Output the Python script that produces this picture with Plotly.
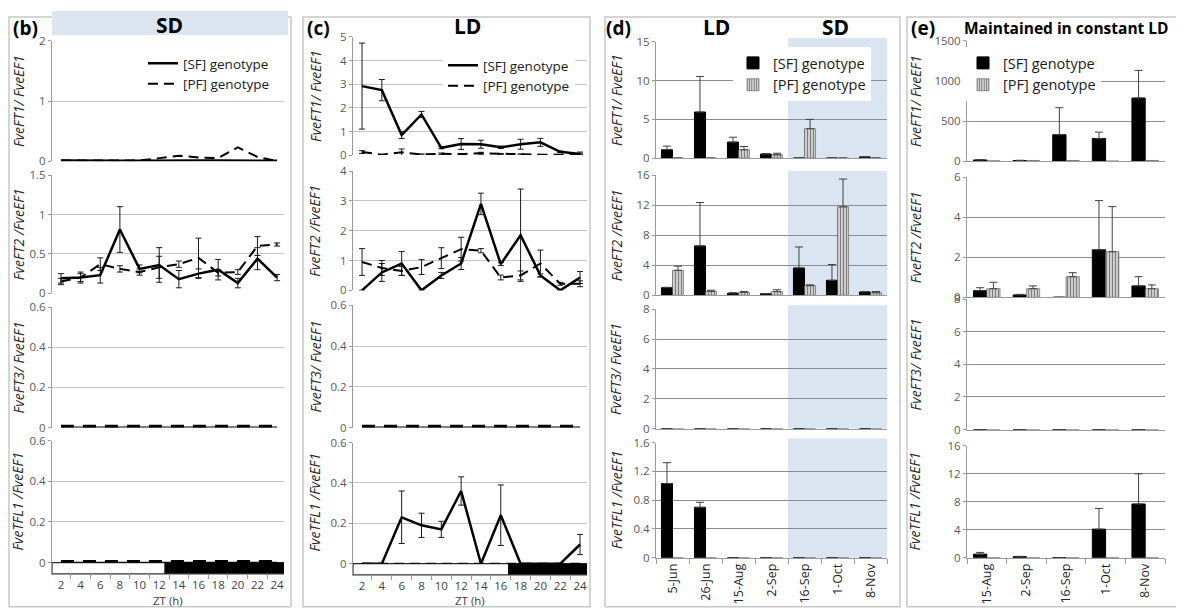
import plotly.graph_objects as go

# Page mapping: figure starts 8px from the left and ~16px from the top of the page;
# the captured page is slightly taller than the window, so y is compensated.
OX = 8
FW = 1176
FH = 609
SY = 1 / 0.974
OY = 16.5
FONT = "Open Sans"

# ---------------- data ----------------
ZT = [2, 4, 6, 8, 10, 12, 14, 16, 18, 20, 22, 24]
ZT_TICKS = [2, 4, 6, 8, 10, 12, 14, 16, 18, 20, 22, 24]

# (b) SD
b_ft1_sf = [0.01, 0.005, 0.01, 0.005, 0.005, 0.01, 0.01, 0.01, 0.01, 0.01, 0.01, 0.005]
b_ft1_pf = [0.01, 0.01, 0.01, 0.01, 0.01, 0.05, 0.09, 0.06, 0.05, 0.23, 0.07, 0.0]
b_ft2_sf = [0.19, 0.20, 0.23, 0.81, 0.31, 0.36, 0.18, 0.25, 0.30, 0.13, 0.44, 0.20]
b_ft2_sf_err = [0.06, 0.07, 0.10, 0.29, 0.05, 0.22, 0.11, 0.06, 0.13, 0.06, 0.14, 0.04]
b_ft2_pf = [0.15, 0.20, 0.37, 0.31, 0.27, 0.33, 0.37, 0.45, 0.26, 0.27, 0.60, 0.62]
b_ft2_pf_err = [0.04, 0.05, 0.08, 0.04, 0.04, 0.14, 0.04, 0.25, 0.04, 0.03, 0.12, 0.02]
b_ft3_sf = [0, 0, 0, 0, 0, 0, 0, 0, 0, 0, 0, 0]
b_ft3_pf = [0.004, 0.004, 0.004, 0.004, 0.004, 0.004, 0.004, 0.004, 0.004, 0.004, 0.004, 0.004]
b_tfl1_sf = [0, 0, 0, 0, 0, 0, 0, 0, 0, 0, 0, 0]
b_tfl1_pf = [0.004, 0.004, 0.004, 0.004, 0.004, 0.004, 0.004, 0.004, 0.004, 0.004, 0.004, 0.004]

# (c) LD
c_ft1_sf = [2.92, 2.75, 0.85, 1.72, 0.31, 0.47, 0.46, 0.33, 0.46, 0.54, 0.14, 0.05]
c_ft1_sf_err = [1.82, 0.45, 0.15, 0.13, 0.04, 0.23, 0.17, 0.05, 0.21, 0.17, 0.03, 0.08]
c_ft1_pf = [0.13, 0.02, 0.12, 0.03, 0.06, 0.04, 0.08, 0.05, 0.03, 0.02, 0.02, 0.05]
c_ft1_pf_err = [0.06, 0.01, 0.14, 0.02, 0.03, 0.02, 0.04, 0.02, 0.02, 0.01, 0.01, 0.03]
c_ft2_sf = [0.0, 0.6, 0.9, 0.0, 0.5, 0.9, 2.9, 0.88, 1.85, 0.5, 0.0, 0.43]
c_ft2_sf_err = [0.0, 0.3, 0.4, 0.0, 0.1, 0.2, 0.36, 0.05, 1.55, 0.05, 0.0, 0.2]
c_ft2_pf = [0.95, 0.75, 0.65, 0.78, 1.08, 1.38, 1.33, 0.43, 0.5, 0.9, 0.22, 0.22]
c_ft2_pf_err = [0.45, 0.25, 0.15, 0.25, 0.35, 0.4, 0.07, 0.08, 0.15, 0.45, 0.05, 0.1]
c_ft3_sf = [0, 0, 0, 0, 0, 0, 0, 0, 0, 0, 0, 0]
c_ft3_pf = [0.004, 0.004, 0.004, 0.004, 0.004, 0.004, 0.004, 0.004, 0.004, 0.004, 0.004, 0.004]
c_tfl1_sf = [0, 0, 0.23, 0.19, 0.17, 0.36, 0, 0.24, 0, 0, 0, 0.095]
c_tfl1_sf_err = [0, 0, 0.13, 0.06, 0.04, 0.07, 0, 0.15, 0, 0, 0, 0.05]
c_tfl1_pf = [0, 0, 0, 0, 0, 0, 0, 0, 0, 0, 0, 0]

# photoperiod (end of light phase, h)
LIGHT_END_SD = 12.6
LIGHT_END_LD = 16.8

# (d) field samples
d_dates = ["5-Jun", "26-Jun", "15-Aug", "2-Sep", "16-Sep", "1-Oct", "8-Nov"]
d_ft1_sf = [1.08, 5.95, 2.07, 0.52, 0, 0, 0.15]
d_ft1_sf_err = [0.47, 4.6, 0.63, 0.08, 0, 0, 0.03]
d_ft1_pf = [0, 0, 1.08, 0.43, 3.8, 0, 0]
d_ft1_pf_err = [0, 0, 0.42, 0.2, 1.2, 0, 0]
d_ft2_sf = [1.02, 6.58, 0.27, 0.2, 3.64, 2.0, 0.45]
d_ft2_sf_err = [0.05, 5.78, 0.1, 0.05, 2.8, 2.1, 0.05]
d_ft2_pf = [3.33, 0.53, 0.4, 0.5, 1.29, 11.78, 0.35]
d_ft2_pf_err = [0.55, 0.15, 0.1, 0.25, 0.1, 3.7, 0.15]
d_ft3_sf = [0, 0, 0, 0, 0, 0, 0]
d_ft3_pf = [0, 0, 0, 0, 0, 0, 0]
d_tfl1_sf = [1.03, 0.70, 0, 0, 0, 0, 0]
d_tfl1_sf_err = [0.29, 0.07, 0, 0, 0, 0, 0]
d_tfl1_pf = [0, 0, 0, 0, 0, 0, 0]
d_sd_start, d_sd_end = 3.5, 6.5   # SD shading between category boundaries

# (e) constant LD
e_dates = ["15-Aug", "2-Sep", "16-Sep", "1-Oct", "8-Nov"]
e_ft1_sf = [15, 8, 329, 283, 788]
e_ft1_sf_err = [5, 3, 338, 79, 345]
e_ft1_pf = [4, 8, 8, 0, 8]
e_ft2_sf = [0.33, 0.12, 0, 2.37, 0.57]
e_ft2_sf_err = [0.15, 0.03, 0, 2.46, 0.46]
e_ft2_pf = [0.43, 0.43, 1.03, 2.28, 0.43]
e_ft2_pf_err = [0.32, 0.14, 0.2, 2.25, 0.19]
e_ft3_sf = [0, 0, 0, 0, 0]
e_ft3_pf = [0, 0, 0, 0, 0]
e_tfl1_sf = [0.5, 0.15, 0, 4.07, 7.66]
e_tfl1_sf_err = [0.25, 0.05, 0, 2.96, 4.3]
e_tfl1_pf = [0, 0, 0, 0, 0]

Y_TITLES = ["FveFT1/ FveEF1", "FveFT2 /FveEF1", "FveFT3/ FveEF1", "FveTFL1 /FveEF1"]

# ---------------- layout geometry (target window pixels) ----------------
X_DOM = [(52, 284), (353, 587), (656, 887), (967, 1165)]
Y_DOM = [
    [(41, 161), (175, 293), (307, 427), (440, 573)],
    [(37, 155), (171, 290), (305, 427), (442, 574)],
    [(42, 158), (175, 295), (309, 428), (442, 557)],
    [(41, 161), (177, 297), (299, 429), (445, 557)],
]
Y_RANGE = [
    [(0, 2, 1), (0, 1.5, 0.5), (0, 0.6, 0.2), (-0.054, 0.6, 0.2)],
    [(0, 5, 1), (0, 4, 1), (0, 0.6, 0.2), (-0.0545, 0.6, 0.2)],
    [(0, 15, 5), (0, 16, 4), (0, 8, 2), (0, 1.6, 0.4)],
    [(0, 1500, 500), (0, 6, 2), (0, 8, 2), (0, 16, 4)],
]
ZT_RANGE = [1.09, 24.7]


def pxx(a):
    return (a - OX) / FW


def pxy(a):
    return 1 - (a * SY - OY) / FH


def idx(p, r):
    return p * 4 + r + 1


def axname(kind, i):
    return kind if i == 1 else f"{kind}{i}"


def tref(kind, i):
    k = kind[0]
    return k if i == 1 else f"{k}{i}"


fig = go.Figure()
LEGENDS = ["legend", "legend2", "legend3", "legend4"]
ERRC = "#1a1a1a"


def err(arr):
    if arr is None:
        return None
    return dict(type="data", array=arr, arrayminus=arr, symmetric=False,
                color=ERRC, thickness=1, width=3)


def line_pair(p, r, sf, sf_err, pf, pf_err, thick=False):
    i = idx(p, r)
    show = (r == 0)
    fig.add_trace(go.Scatter(
        x=ZT, y=sf, mode="lines", name="[SF] genotype",
        line=dict(color="black", width=2.5 if not thick else 2),
        error_y=err(sf_err), xaxis=tref("x", i), yaxis=tref("y", i),
        showlegend=show, legend=LEGENDS[p], hoverinfo="skip"))
    fig.add_trace(go.Scatter(
        x=ZT, y=pf, mode="lines", name="[PF] genotype",
        line=dict(color="black", width=4 if thick else 2,
                  dash="13px,9px" if thick else "10px,6px"),
        error_y=err(pf_err), xaxis=tref("x", i), yaxis=tref("y", i),
        showlegend=show, legend=LEGENDS[p], hoverinfo="skip"))


PF_PATTERN = dict(shape="|", fgcolor="black", bgcolor="white", size=3, solidity=0.6)


def bar_pair(p, r, cats, sf, sf_err, pf, pf_err):
    i = idx(p, r)
    show = (r == 0)
    sfe = None if sf_err is None else dict(type="data", array=sf_err, arrayminus=[0] * len(sf_err),
                                           symmetric=False, color="#404040", thickness=1, width=4)
    pfe = None if pf_err is None else dict(type="data", array=pf_err, arrayminus=[0] * len(pf_err),
                                           symmetric=False, color="#404040", thickness=1, width=4)
    fig.add_trace(go.Bar(
        x=cats, y=sf, name="[SF] genotype",
        marker=dict(color="black", line=dict(color="black", width=1)),
        error_y=sfe, xaxis=tref("x", i), yaxis=tref("y", i),
        showlegend=show, legend=LEGENDS[p], hoverinfo="skip",
        offsetgroup="sf"))
    fig.add_trace(go.Bar(
        x=cats, y=pf, name="[PF] genotype",
        marker=dict(color="white", pattern=PF_PATTERN, line=dict(color="#555555", width=0.6)),
        error_y=pfe, xaxis=tref("x", i), yaxis=tref("y", i),
        showlegend=show, legend=LEGENDS[p], hoverinfo="skip",
        offsetgroup="pf"))


# panel (b)
line_pair(0, 0, b_ft1_sf, None, b_ft1_pf, None)
line_pair(0, 1, b_ft2_sf, b_ft2_sf_err, b_ft2_pf, b_ft2_pf_err)
line_pair(0, 2, b_ft3_sf, None, b_ft3_pf, None, thick=True)
line_pair(0, 3, b_tfl1_sf, None, b_tfl1_pf, None, thick=True)
# panel (c)
line_pair(1, 0, c_ft1_sf, c_ft1_sf_err, c_ft1_pf, c_ft1_pf_err)
line_pair(1, 1, c_ft2_sf, c_ft2_sf_err, c_ft2_pf, c_ft2_pf_err)
line_pair(1, 2, c_ft3_sf, None, c_ft3_pf, None, thick=True)
line_pair(1, 3, c_tfl1_sf, c_tfl1_sf_err, c_tfl1_pf, None)
# panel (d)
bar_pair(2, 0, d_dates, d_ft1_sf, d_ft1_sf_err, d_ft1_pf, d_ft1_pf_err)
bar_pair(2, 1, d_dates, d_ft2_sf, d_ft2_sf_err, d_ft2_pf, d_ft2_pf_err)
bar_pair(2, 2, d_dates, d_ft3_sf, None, d_ft3_pf, None)
bar_pair(2, 3, d_dates, d_tfl1_sf, d_tfl1_sf_err, d_tfl1_pf, None)
# panel (e)
bar_pair(3, 0, e_dates, e_ft1_sf, e_ft1_sf_err, e_ft1_pf, None)
bar_pair(3, 1, e_dates, e_ft2_sf, e_ft2_sf_err, e_ft2_pf, e_ft2_pf_err)
bar_pair(3, 2, e_dates, e_ft3_sf, None, e_ft3_pf, None)
bar_pair(3, 3, e_dates, e_tfl1_sf, e_tfl1_sf_err, e_tfl1_pf, None)

# ---------------- axes ----------------
TICKFONT = dict(family=FONT, size=11.5, color="#595959")
layout = {}
for p in range(4):
    grid_c = "#c4c4c4" if p < 2 else "#8c8c8c"
    for r in range(4):
        i = idx(p, r)
        x0, x1 = X_DOM[p]
        yt, yb = Y_DOM[p][r]
        lo, hi, dt = Y_RANGE[p][r]
        bottom = (r == 3)
        xa = dict(domain=[pxx(x0), pxx(x1)], anchor=tref("y", i),
                  showgrid=False, zeroline=False, showline=True,
                  linecolor="#9a9a9a", linewidth=1, fixedrange=True)
        if p < 2:
            xa.update(type="linear", range=ZT_RANGE)
            if bottom:
                xa.update(tickmode="array", tickvals=ZT_TICKS, ticks="",
                          tickfont=dict(family=FONT, size=11.5, color="#404040"),
                          showticklabels=True,
                          minor=dict(ticks="outside", tickmode="linear", tick0=1, dtick=2,
                                     ticklen=4, tickcolor="#9a9a9a"))
            else:
                xa.update(showticklabels=False, ticks="", showline=False)
        else:
            xa.update(type="category", categoryorder="array",
                      categoryarray=d_dates if p == 2 else e_dates,
                      range=[-0.5, (len(d_dates) if p == 2 else len(e_dates)) - 0.5])
            if bottom:
                xa.update(showticklabels=True, tickangle=-90, ticks="outside",
                          tickson="boundaries", ticklen=5, tickcolor="#9a9a9a",
                          tickfont=dict(family=FONT, size=12.5, color="#262626"))
            else:
                xa.update(showticklabels=False, ticks="")
        ya = dict(domain=[pxy(yb), pxy(yt)], anchor=tref("x", i),
                  range=[lo, hi], showgrid=True, gridcolor=grid_c, gridwidth=1,
                  zeroline=False, showline=True, linecolor="#9a9a9a", linewidth=1,
                  ticks="outside", ticklen=3, tickcolor="#9a9a9a",
                  tickfont=TICKFONT, fixedrange=True)
        if lo < 0:
            vals = []
            v = 0.0
            while v <= hi + 1e-9:
                vals.append(round(v, 3))
                v += dt
            ya.update(tickmode="array", tickvals=vals, range=[lo, hi])
        else:
            ya.update(tickmode="linear", tick0=0, dtick=dt)
        layout[axname("xaxis", i)] = xa
        layout[axname("yaxis", i)] = ya

fig.update_layout(**layout)

# ---------------- shapes ----------------
shapes = []
# panel borders
for (a, b) in [(9, 291), (303, 590), (605, 900), (907, 1183)]:
    shapes.append(dict(type="rect", xref="paper", yref="paper",
                       x0=pxx(a), x1=pxx(b), y0=pxy(606), y1=pxy(17),
                       line=dict(color="#c8c8c8", width=1.5), fillcolor="rgba(0,0,0,0)",
                       layer="below"))
# SD title band in (b)
shapes.append(dict(type="rect", xref="paper", yref="paper",
                   x0=pxx(52), x1=pxx(288), y0=pxy(35), y1=pxy(11),
                   line=dict(width=0), fillcolor="#dce6f1", layer="below"))
# SD shading in (d)
for r in range(4):
    i = idx(2, r)
    shapes.append(dict(type="rect", xref=tref("x", i), yref=tref("y", i) + " domain",
                       x0=d_sd_start, x1=d_sd_end, y0=0, y1=1.035,
                       line=dict(width=0), fillcolor="#dbe5f1", layer="below"))
# light/dark bars
for p, light_end in [(0, LIGHT_END_SD), (1, LIGHT_END_LD)]:
    i = idx(p, 3)
    lo = Y_RANGE[p][3][0]
    shapes.append(dict(type="rect", xref=tref("x", i), yref=tref("y", i),
                       x0=ZT_RANGE[0], x1=light_end, y0=lo, y1=0,
                       line=dict(color="black", width=1), fillcolor="white"))
    shapes.append(dict(type="rect", xref=tref("x", i), yref=tref("y", i),
                       x0=light_end, x1=ZT_RANGE[1], y0=lo, y1=0,
                       line=dict(color="black", width=1), fillcolor="black"))

# ---------------- annotations ----------------
ann = []


def text(x, y, s, size, bold=False, italic=False, angle=0, color="black"):
    t = s
    if bold:
        t = f"<b>{t}</b>"
    if italic:
        t = f"<i>{t}</i>"
    ann.append(dict(x=pxx(x), y=pxy(y), xref="paper", yref="paper", text=t,
                    showarrow=False, textangle=angle, xanchor="center", yanchor="middle",
                    font=dict(family=FONT, size=size, color=color)))


text(25, 28, "(b)", 19, bold=True)
text(318, 28, "(c)", 19, bold=True)
text(618, 28, "(d)", 19, bold=True)
text(923, 28, "(e)", 19, bold=True)
text(170, 25, "SD", 21, bold=True)
text(467, 26, "LD", 21, bold=True)
text(716, 27, "LD", 21, bold=True)
text(835, 27, "SD", 21, bold=True)
text(1066, 28, "Maintained in constant LD", 15.5, bold=True)
text(168, 600, "ZT (h)", 11.5, color="#404040")
text(470, 600, "ZT (h)", 11.5, color="#404040")

TITLE_X = [18, 315, 616, 915]
for p in range(4):
    for r in range(4):
        yt, yb = Y_DOM[p][r]
        if r == 3 and p < 2:
            yb = 562
        text(TITLE_X[p], (yt + yb) / 2, Y_TITLES[r], 14, italic=True, angle=-90, color="#262626")


# ---------------- legends ----------------
def leg(x, ytop, size):
    return dict(x=pxx(x), y=pxy(ytop), xanchor="left", yanchor="top",
                bgcolor="white", borderwidth=0, tracegroupgap=0,
                font=dict(family=FONT, size=size, color="#1a1a1a"),
                itemclick=False, itemdoubleclick=False)


fig.update_layout(
    width=FW, height=FH,
    margin=dict(l=0, r=0, t=0, b=0),
    paper_bgcolor="white", plot_bgcolor="rgba(0,0,0,0)",
    barmode="group", bargap=0.33, bargroupgap=0,
    shapes=shapes, annotations=ann,
    legend=leg(143, 48, 13.5),
    legend2=leg(443, 50, 13.5),
    legend3=leg(733, 47, 14.5),
    legend4=leg(963, 47, 14.5),
    font=dict(family=FONT),
)

fig.write_html("out.html", config={"displayModeBar": False, "staticPlot": True})
